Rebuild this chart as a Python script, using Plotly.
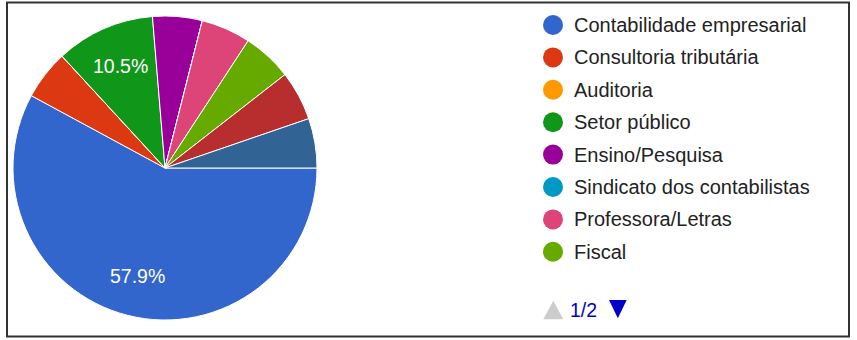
import math
import plotly.graph_objects as go

# ---- data ----
categories = ["Contabilidade empresarial", "Consultoria tributária", "Auditoria",
              "Setor público", "Ensino/Pesquisa", "Sindicato dos contabilistas",
              "Professora/Letras", "Fiscal", "Item 9", "Item 10"]
counts = [11, 1, 0, 2, 1, 0, 1, 1, 1, 1]
colors = ["#3366cc", "#dc3912", "#ff9900", "#109618", "#990099",
          "#0099c6", "#dd4477", "#66aa00", "#b82e2e", "#316395"]
legend_page_size = 8
page_label = "1/2"

W, H = 857, 340
FONT = "Arial, Liberation Sans, sans-serif"
START_ANGLE = 90          # first slice starts at 3 o'clock, clockwise
LABEL_MIN_SHARE = 0.07    # only label slices bigger than this
LABEL_RADIUS = 0.735      # label distance as a fraction of the radius

# pie geometry (pixels)
cx, cy, r = 165, 168, 152

fig = go.Figure()
fig.add_trace(go.Pie(
    labels=categories, values=counts, sort=False, direction="clockwise",
    rotation=START_ANGLE, marker=dict(colors=colors, line=dict(color="white", width=1)),
    textinfo="none", showlegend=False, hoverinfo="label+value+percent",
    domain=dict(x=[(cx - r) / W, (cx + r) / W], y=[1 - (cy + r) / H, 1 - (cy - r) / H]),
))

# slice percentage labels placed along each slice's mid-angle
total = sum(counts)
cum = 0
for c in counts:
    share = c / total
    if share > LABEL_MIN_SHARE:
        theta = math.radians(START_ANGLE + 360 * (cum + c / 2) / total)
        fig.add_annotation(
            x=cx + LABEL_RADIUS * r * math.sin(theta),
            y=cy - LABEL_RADIUS * r * math.cos(theta),
            xref="x", yref="y", text=f"{share * 100:.1f}%", showarrow=False,
            xanchor="center", yanchor="middle",
            font=dict(family=FONT, size=19.5, color="white"))
    cum += c

# legend (first page)
row0, step = 25, 32.4
leg_y = [row0 + step * i for i in range(legend_page_size)]
fig.add_trace(go.Scatter(
    x=[553] * legend_page_size, y=leg_y, mode="markers",
    marker=dict(size=20, color=colors[:legend_page_size], line=dict(width=0)),
    showlegend=False, hoverinfo="skip"))
for name, yy in zip(categories[:legend_page_size], leg_y):
    fig.add_annotation(x=572, y=yy, xref="x", yref="y", text=name, showarrow=False,
                       xanchor="left", yanchor="middle",
                       font=dict(family=FONT, size=20, color="#222222"))

# pager
fig.add_shape(type="path", xref="x", yref="y", path="M543.3,319.3 L563.3,319.3 L553.3,300.7 Z",
              fillcolor="#cccccc", line=dict(width=0))
fig.add_shape(type="path", xref="x", yref="y", path="M609,300 L626.7,300 L617.85,318.3 Z",
              fillcolor="#0000cc", line=dict(width=0))
fig.add_annotation(x=568, y=310, xref="x", yref="y", text=page_label, showarrow=False,
                   xanchor="left", yanchor="middle",
                   font=dict(family=FONT, size=19.5, color="#0000cc"))

# frame
fig.add_shape(type="rect", xref="x", yref="y", x0=7, x1=849, y0=2.5, y1=336.5,
              line=dict(color="#333333", width=2), layer="above")

fig.update_layout(
    width=W, height=H, margin=dict(l=0, r=0, t=0, b=0),
    paper_bgcolor="white", plot_bgcolor="rgba(0,0,0,0)",
    xaxis=dict(range=[0, W], visible=False, domain=[0, 1], fixedrange=True),
    yaxis=dict(range=[H, 0], visible=False, domain=[0, 1], fixedrange=True),
    showlegend=False,
)

fig.write_html("out.html")
